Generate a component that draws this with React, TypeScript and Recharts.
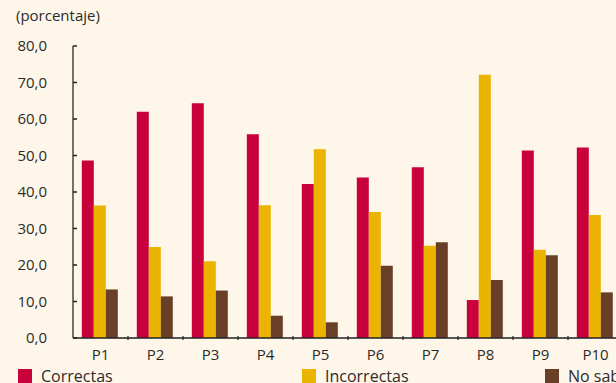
import { Bar, BarChart, XAxis, YAxis } from "recharts";

const preguntas = ["P1", "P2", "P3", "P4", "P5", "P6", "P7", "P8", "P9", "P10"];
const correctas = [48.6, 62.0, 64.3, 55.8, 42.2, 44.0, 46.8, 10.4, 51.4, 52.2];
const incorrectas = [36.3, 24.9, 21.0, 36.4, 51.7, 34.5, 25.3, 72.1, 24.2, 33.7];
const noSabe = [13.3, 11.4, 13.0, 6.1, 4.3, 19.8, 26.2, 15.9, 22.7, 12.5];
const yTicks = [0, 10, 20, 30, 40, 50, 60, 70, 80];

const data = preguntas.map((p, i) => ({
  name: p,
  correctas: correctas[i],
  incorrectas: incorrectas[i],
  noSabe: noSabe[i],
}));

const RED = "#c8003c";
const YELLOW = "#ebb400";
const BROWN = "#693f28";
const BG = "#fff6ea";
const TEXT = "#2b2b2b";
const FONT = "'Open Sans', sans-serif";

const CHART_W = 640;
const MARGIN = { top: 46, right: 17, bottom: 15, left: 0 };
const Y_W = 73;
const BAND = (CHART_W - MARGIN.left - MARGIN.right - Y_W) / preguntas.length;

const fmt = (v: number) => v.toFixed(1).replace(".", ",");

function YTick(props: any) {
  const { x, y, payload } = props;
  return (
    <g>
      <text x={x} y={y} dy={5} textAnchor="end" fill={TEXT} fontSize={15} fontFamily={FONT}>
        {fmt(payload.value)}
      </text>
      <line x1={x + 26} x2={x + 30} y1={y} y2={y} stroke="#222" strokeWidth={1.5} />
    </g>
  );
}

function XTick(props: any) {
  const { x, y, payload, index } = props;
  return (
    <g>
      <text x={x} y={y + 15} dy={5} textAnchor="middle" fill={TEXT} fontSize={15} fontFamily={FONT}>
        {payload.value}
      </text>
      {index < preguntas.length - 1 && (
        <line x1={x + BAND / 2} x2={x + BAND / 2} y1={y - 4} y2={y} stroke="#222" strokeWidth={1.2} />
      )}
    </g>
  );
}

const legendItems = [
  { label: "Correctas", color: RED, left: 18 },
  { label: "Incorrectas", color: YELLOW, left: 302 },
  { label: "No sabe", color: BROWN, left: 545 },
];

export default function App() {
  return (
    <div
      style={{
        position: "absolute",
        left: 0,
        top: 0,
        width: 616,
        height: 383,
        overflow: "hidden",
        background: BG,
        fontFamily: FONT,
      }}
    >
      <div style={{ position: "absolute", left: 16, top: 5, fontSize: 15, color: TEXT }}>
        (porcentaje)
      </div>
      <BarChart
        width={CHART_W}
        height={383}
        data={data}
        margin={MARGIN}
        barCategoryGap="16%"
        barGap={0}
      >
        <XAxis
          dataKey="name"
          height={30}
          tickLine={false}
          tickSize={0}
          tick={<XTick />}
          interval={0}
          axisLine={{ stroke: "#222", strokeWidth: 1.5 }}
        />
        <YAxis
          width={Y_W}
          domain={[0, 80]}
          ticks={yTicks}
          tickLine={false}
          tickSize={0}
          tickMargin={26}
          tick={<YTick />}
          axisLine={{ stroke: "#444", strokeWidth: 1.5 }}
        />
        <Bar dataKey="correctas" fill={RED} isAnimationActive={false} />
        <Bar dataKey="incorrectas" fill={YELLOW} isAnimationActive={false} />
        <Bar dataKey="noSabe" fill={BROWN} isAnimationActive={false} />
      </BarChart>
      {legendItems.map((it) => (
        <div
          key={it.label}
          style={{
            position: "absolute",
            left: it.left,
            top: 369,
            display: "flex",
            alignItems: "flex-start",
            fontSize: 16,
            color: TEXT,
            whiteSpace: "nowrap",
          }}
        >
          <span style={{ display: "inline-block", width: 14, height: 14, background: it.color, marginRight: 9 }} />
          <span style={{ lineHeight: "14px", marginTop: 0 }}>{it.label}</span>
        </div>
      ))}
    </div>
  );
}
